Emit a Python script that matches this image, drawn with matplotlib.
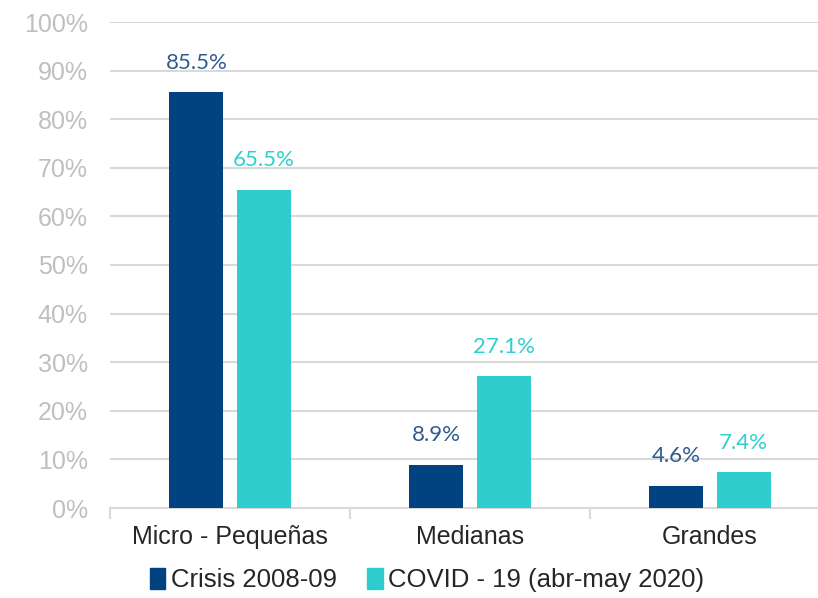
import numpy as np
import matplotlib.pyplot as plt
from matplotlib.patches import Patch

categories = ["Micro - Pequeñas", "Medianas", "Grandes"]
crisis = [85.5, 8.9, 4.6]
covid = [65.5, 27.1, 7.4]
series_names = ["Crisis 2008-09", "COVID - 19 (abr-may 2020)"]
yticks = [0, 10, 20, 30, 40, 50, 60, 70, 80, 90, 100]

dark = "#004380"
cyan = "#2ecccc"
dark_lbl = "#2f5b8f"
cyan_lbl = "#2ecfd0"
grid_c = "#d9d9d9"

plt.rcParams['font.family'] = ['Liberation Sans', 'DejaVu Sans']

fig = plt.figure(figsize=(8.18, 5.98), dpi=100)
ax = fig.add_axes([110 / 818, 90 / 598, 720 / 818, 486 / 598])

x = np.arange(len(categories))
w = 0.225
off = 0.14
b1 = ax.bar(x - off, crisis, w, color=dark, zorder=3)
b2 = ax.bar(x + off, covid, w, color=cyan, zorder=3)

for rect, v in zip(b1, crisis):
    ax.text(rect.get_x() + rect.get_width() / 2, v + 4, f"{v:.1f}%",
            ha='center', va='bottom', color=dark_lbl, fontsize=16, family=['Lato', 'DejaVu Sans'])
for rect, v in zip(b2, covid):
    ax.text(rect.get_x() + rect.get_width() / 2, v + 4, f"{v:.1f}%",
            ha='center', va='bottom', color=cyan_lbl, fontsize=16, family=['Lato', 'DejaVu Sans'])

ax.set_ylim(0, 100)
ax.set_xlim(-0.5, 2.5)
ax.set_yticks(yticks)
ax.set_yticklabels([f"{t}%" for t in yticks], color="#bfbfbf", fontsize=18)
ax.yaxis.grid(True, color=grid_c, linewidth=1.5, zorder=0)
ax.tick_params(axis='y', length=0, pad=16)

ax.set_xticks([-0.5, 0.5, 1.5])
ax.set_xticklabels([])
ax.set_xticks(x, minor=True)
ax.set_xticklabels(categories, minor=True, fontsize=18, color="#262626")
ax.tick_params(axis='x', which='major', length=8, color=grid_c, width=1.5)
ax.tick_params(axis='x', which='minor', length=0, pad=12)

for s in ['top', 'right', 'left']:
    ax.spines[s].set_visible(False)
ax.spines['bottom'].set_color(grid_c)
ax.spines['bottom'].set_linewidth(1.5)

handles = [Patch(color=dark), Patch(color=cyan)]
fig.legend(handles, series_names, loc='center', bbox_to_anchor=(427 / 818, 1 - 580 / 598),
           ncol=2, frameon=False, fontsize=18.5, handlelength=0.6, handleheight=0.9,
           handletextpad=0.2, columnspacing=1.2, labelcolor="#262626")

fig.savefig("out.png", dpi=100)
